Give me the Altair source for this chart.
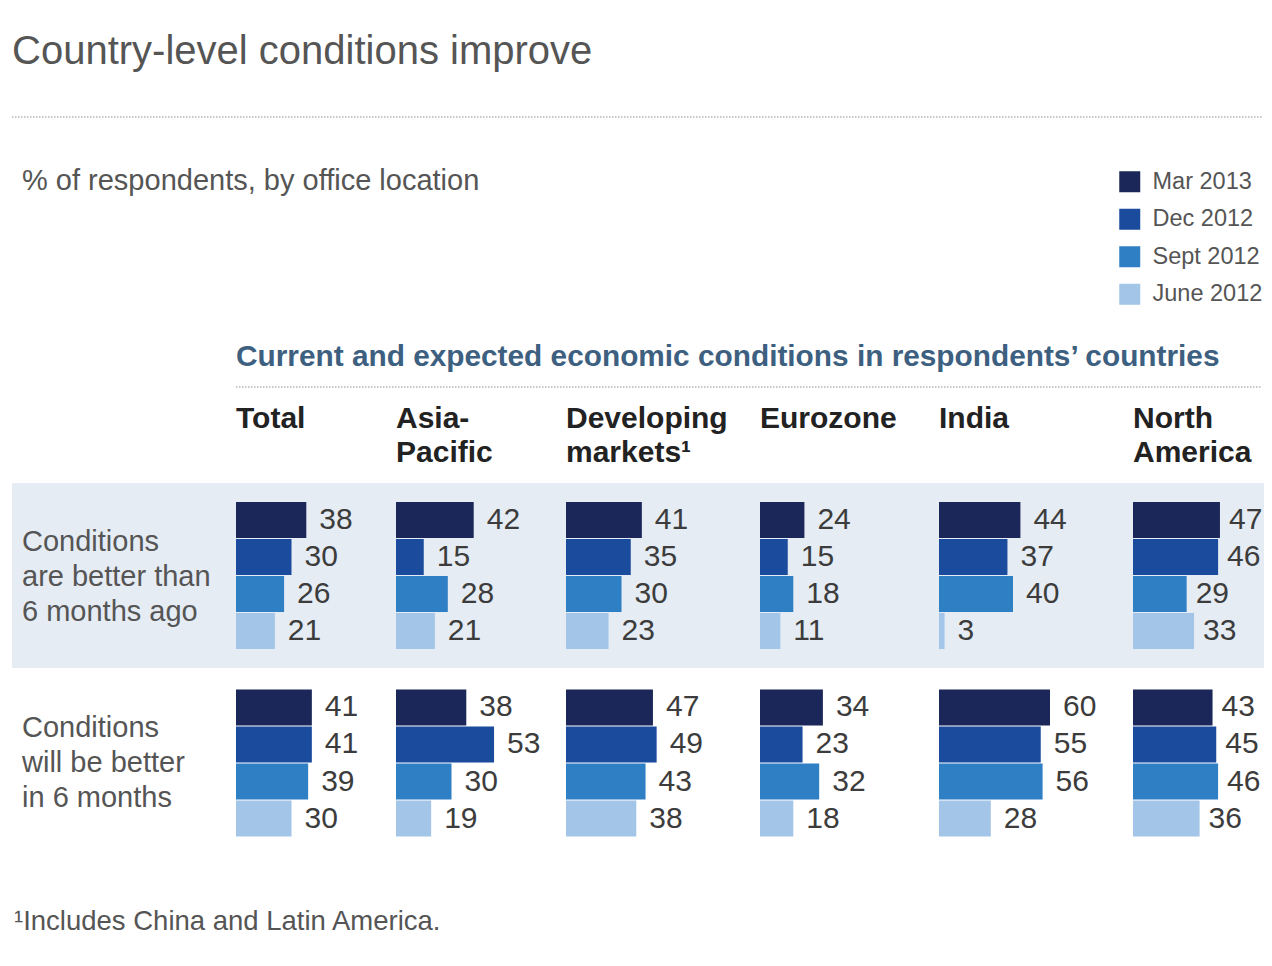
import altair as alt
import pandas as pd

# ---------------- data ----------------
TITLE = "Country-level conditions improve"
SUBTITLE = "% of respondents, by office location"
HEADER = "Current and expected economic conditions in respondents’ countries"
FOOTNOTE = "¹Includes China and Latin America."

periods = ["Mar 2013", "Dec 2012", "Sept 2012", "June 2012"]
colors = ["#1b2758", "#1b4b9c", "#2f7fc5", "#a2c5e8"]

regions = ["Total", "Asia-Pacific", "Developing markets", "Eurozone", "India", "North America"]
region_labels = ["Total", "Asia-\nPacific", "Developing\nmarkets¹", "Eurozone", "India", "North\nAmerica"]

conditions = ["better_now", "better_later"]
condition_labels = [
    "Conditions\nare better than\n6 months ago",
    "Conditions\nwill be better\nin 6 months",
]

better_now_total = [38, 30, 26, 21]
better_now_asia = [42, 15, 28, 21]
better_now_dev = [41, 35, 30, 23]
better_now_euro = [24, 15, 18, 11]
better_now_india = [44, 37, 40, 3]
better_now_na = [47, 46, 29, 33]

better_later_total = [41, 41, 39, 30]
better_later_asia = [38, 53, 30, 19]
better_later_dev = [47, 49, 43, 38]
better_later_euro = [34, 23, 32, 18]
better_later_india = [60, 55, 56, 28]
better_later_na = [43, 45, 46, 36]

series = {
    "better_now": [better_now_total, better_now_asia, better_now_dev,
                   better_now_euro, better_now_india, better_now_na],
    "better_later": [better_later_total, better_later_asia, better_later_dev,
                     better_later_euro, better_later_india, better_later_na],
}

rows = []
for cond in conditions:
    for reg, vals in zip(regions, series[cond]):
        for p, v in zip(periods, vals):
            rows.append({"condition": cond, "region": reg, "period": p, "value": v})
df = pd.DataFrame(rows)

# ---------------- layout / style ----------------
FONT = "Liberation Sans"
W = 1256
LEFT = 4
LABEL_W = 224
COL_W = [160, 170, 194, 179, 194, 131]
LABEL_DX = [13, 13, 13, 13, 13, 9]
PX = 1.85
TOP_H = 387
HDR_H = 88
ROW_H = [185, 190]
ROW_PO = [0.5135, 0.581]
PI = 0.027
FOOT_H = 88
STRIPE = "#e5ecf4"


def text_layer(text, x, y, size, color, weight="normal", line_height=None, align="left"):
    kw = dict(align=align, baseline="middle", font=FONT, fontSize=size,
              color=color, fontWeight=weight, lineBreak="\n")
    if line_height is not None:
        kw["lineHeight"] = line_height
    return alt.Chart(pd.DataFrame({"t": [text]})).mark_text(**kw).encode(
        text="t:N", x=alt.value(x), y=alt.value(y))


def rule_layer(x1, x2, y):
    return alt.Chart(pd.DataFrame({"a": [0]})).mark_rule(
        color="#b5b5b5", strokeDash=[1.5, 1.5], strokeWidth=1.5).encode(
        x=alt.value(x1), x2=alt.value(x2), y=alt.value(y))


def spacer(w, h):
    return text_layer("", 0, h / 2, 4, "#fff").properties(width=w, height=h)


# top block
top = alt.layer(
    text_layer(TITLE, 4, 44, 40, "#555555"),
    rule_layer(4, W - 2, 109),
    text_layer(SUBTITLE, 14, 173, 29, "#555555"),
    text_layer(HEADER, 228, 349, 29.8, "#3d6080", weight="bold"),
    rule_layer(228, W - 2, 379),
).properties(width=W, height=TOP_H)

# column headers
hdr = alt.hconcat(
    spacer(LEFT + LABEL_W, HDR_H),
    *[text_layer(lbl, 0, 24, 30, "#222222", weight="bold", line_height=34)
      .properties(width=w, height=HDR_H)
      for lbl, w in zip(region_labels, COL_W)],
    spacing=0,
)

legend = alt.Legend(
    orient="none", legendX=1110, legendY=162, title=None, padding=0,
    symbolType="square", symbolSize=441, symbolStrokeWidth=0, symbolOpacity=1,
    labelFont=FONT, labelFontSize=23.5, labelColor="#555555", labelOffset=11,
    rowPadding=12.5,
)


def bar_panel(region, cond, w, h, po, fill, dx):
    base = alt.Chart(df).transform_filter(
        (alt.datum.region == region) & (alt.datum.condition == cond))
    x = alt.X("value:Q", scale=alt.Scale(domain=[0, w / PX], nice=False, zero=True), axis=None)
    y = alt.Y("period:N", sort=periods,
              scale=alt.Scale(domain=periods, paddingInner=PI, paddingOuter=po), axis=None)
    bars = base.mark_bar().encode(
        x=x, y=y,
        color=alt.Color("period:N", scale=alt.Scale(domain=periods, range=colors), legend=legend),
    )
    labels = base.mark_text(align="left", baseline="middle", dx=dx, font=FONT,
                            fontSize=30, color="#3c3c3c").encode(x=x, y=y, text="value:Q")
    props = dict(width=w, height=h)
    if fill:
        props["view"] = alt.ViewBackground(fill=STRIPE, strokeWidth=0)
    return alt.layer(bars, labels).properties(**props)


row_charts = []
for i, cond in enumerate(conditions):
    h = ROW_H[i]
    fill = i == 0
    lab = text_layer(condition_labels[i], 10, 59 if i == 0 else 60, 29, "#555555",
                     line_height=35)
    lprops = dict(width=LABEL_W, height=h)
    if fill:
        lprops["view"] = alt.ViewBackground(fill=STRIPE, strokeWidth=0)
    lab = lab.properties(**lprops)
    panels = [bar_panel(reg, cond, w, h, ROW_PO[i], fill, dx)
              for reg, w, dx in zip(regions, COL_W, LABEL_DX)]
    row_charts.append(alt.hconcat(spacer(LEFT, h), lab, *panels, spacing=0)
                      .resolve_scale(x="independent", y="independent"))

foot = text_layer(FOOTNOTE, 6, 64, 27.5, "#555555").properties(width=W, height=FOOT_H)

chart = alt.vconcat(top, hdr, row_charts[0], row_charts[1], foot, spacing=0).resolve_scale(
    x="independent", y="independent"
).properties(padding=0, background="white").configure_view(strokeWidth=0).configure_concat(spacing=0)

chart.save("out.html", embed_options={"renderer": "svg", "actions": False})
